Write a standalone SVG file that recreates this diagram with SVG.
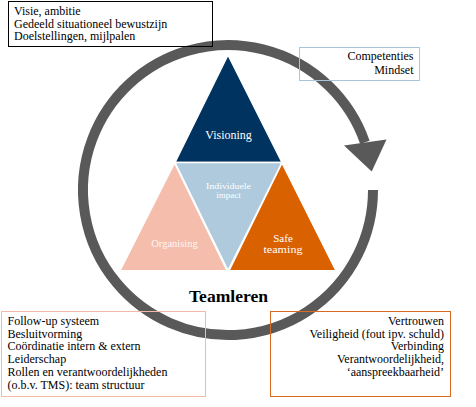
<svg xmlns="http://www.w3.org/2000/svg" width="476" height="407" viewBox="0 0 476 407">
  <style>
    .t { font-family: "Liberation Serif", "Times New Roman", serif; font-size: 12px; fill: #000000; }
    .r { text-anchor: end; }
    .lbl { font-family: "Liberation Serif", "Times New Roman", serif; fill: #FFFFFF; text-anchor: middle; }
    .tri { stroke: #FFFFFF; stroke-width: 1.5; stroke-linejoin: miter; }
    .box { fill: none; stroke-width: 1; }
  </style>
  <rect x="0" y="0" width="476" height="407" fill="#FFFFFF"/>

  <g id="connectors">
    <path d="M 373 190 A 145 145 0 1 1 364.9 142.3" fill="none" stroke="#595959" stroke-width="10"/>
    <polygon points="344,145.5 386.5,139.5 371.7,171.5" fill="#595959"/>
  </g>

  <g id="node-visioning">
    <polygon class="tri" points="228,55 175,162.5 282,162.5" fill="#00335F"/>
    <text class="lbl" x="228.5" y="139" font-size="12">Visioning</text>
  </g>
  <g id="node-individuele-impact">
    <polygon class="tri" points="175,162.5 282,162.5 228,270.5" fill="#AECADC"/>
    <text class="lbl" x="228.5" y="188.5" font-size="9" textLength="45" lengthAdjust="spacingAndGlyphs">Individuele</text>
    <text class="lbl" x="228.5" y="197.5" font-size="9">impact</text>
  </g>
  <g id="node-organising">
    <polygon class="tri" points="174.5,163 120,270.7 227,270.7" fill="#F5BDAB"/>
    <text class="lbl" x="174.5" y="246.7" font-size="10.5" fill-opacity="0.9">Organising</text>
  </g>
  <g id="node-safe-teaming">
    <polygon class="tri" points="282,163 229,270.7 336,270.7" fill="#DA6100"/>
    <text class="lbl" x="283" y="241.5" font-size="11">Safe</text>
    <text class="lbl" x="283" y="252.5" font-size="11" textLength="39" lengthAdjust="spacingAndGlyphs">teaming</text>
  </g>

  <g id="node-teamleren">
    <text x="228.5" y="301.5" font-family="'Liberation Serif', 'Times New Roman', serif" font-size="16" font-weight="bold" text-anchor="middle" fill="#000000" textLength="79" lengthAdjust="spacingAndGlyphs">Teamleren</text>
  </g>

  <g id="node-visie">
    <rect class="box" x="8.5" y="1.5" width="204" height="45" stroke="#000000"/>
    <text class="t" x="14" y="15" font-size="11.8">Visie, ambitie</text>
    <text class="t" x="14" y="27.5" font-size="11.8">Gedeeld situationeel bewustzijn</text>
    <text class="t" x="14" y="40" font-size="11.8">Doelstellingen, mijlpalen</text>
  </g>

  <g id="node-competenties">
    <rect class="box" x="299.5" y="47.5" width="120" height="33" stroke="#A9C5D9"/>
    <text class="t r" x="413.5" y="59.5">Competenties</text>
    <text class="t r" x="413.5" y="73.7">Mindset</text>
  </g>

  <g id="node-organisatie">
    <rect class="box" x="1.5" y="311.5" width="204" height="85" stroke="#F2B9A7"/>
    <text class="t" x="7.5" y="325">Follow-up systeem</text>
    <text class="t" x="7.5" y="337.7">Besluitvorming</text>
    <text class="t" x="7.5" y="350.4">Coördinatie intern &amp; extern</text>
    <text class="t" x="7.5" y="363.1">Leiderschap</text>
    <text class="t" x="7.5" y="375.8">Rollen en verantwoordelijkheden</text>
    <text class="t" x="7.5" y="388.5">(o.b.v. TMS): team structuur</text>
  </g>

  <g id="node-veiligheid">
    <rect class="box" x="270.5" y="311.5" width="180" height="85" stroke="#D96A1E"/>
    <text class="t r" x="444" y="325">Vertrouwen</text>
    <text class="t r" x="444" y="337.5">Veiligheid (fout ipv. schuld)</text>
    <text class="t r" x="444" y="350.2">Verbinding</text>
    <text class="t r" x="444" y="363.2">Verantwoordelijkheid,</text>
    <text class="t r" x="444" y="376">‘aanspreekbaarheid’</text>
  </g>
</svg>
